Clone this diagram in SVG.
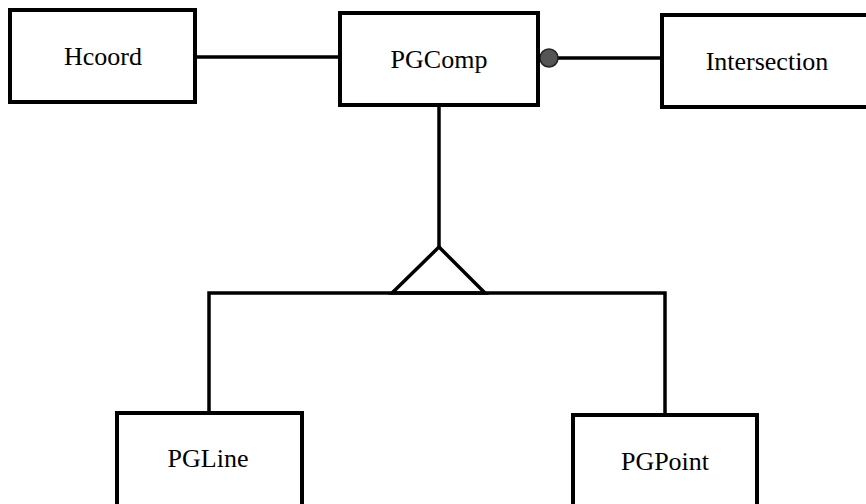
<svg xmlns="http://www.w3.org/2000/svg" width="866" height="504" viewBox="0 0 866 504">
<style>
.box{fill:#fff;stroke:#000;stroke-width:4}
.lbl{font-family:"Liberation Serif","Times New Roman",serif;font-size:26px;fill:#000;text-anchor:middle}
.ln{fill:none;stroke:#000;stroke-width:3.5}
</style>
<rect width="866" height="504" fill="#fff"/>
<g id="connectors">
<line class="ln" x1="195" y1="57" x2="340" y2="57"/>
<line class="ln" x1="556" y1="58" x2="662" y2="58"/>
<circle cx="549" cy="58" r="9" fill="#555" stroke="#222" stroke-width="1.5"/>
<line class="ln" x1="439" y1="105" x2="439" y2="247"/>
<polygon class="ln" points="439,247 392,293 485,293" style="fill:#fff"/>
<polyline class="ln" points="209,413 209,293 665,293 665,415"/>
</g>
<g id="hcoord">
<rect class="box" x="10" y="10" width="185" height="92"/>
<text class="lbl" x="103" y="65">Hcoord</text>
</g>
<g id="pgcomp">
<rect class="box" x="340" y="13" width="198" height="92"/>
<text class="lbl" x="439" y="68">PGComp</text>
</g>
<g id="intersection">
<rect class="box" x="662" y="15" width="220" height="92"/>
<text class="lbl" x="767" y="70">Intersection</text>
</g>
<g id="pgline">
<rect class="box" x="117" y="413" width="185" height="100"/>
<text class="lbl" x="208" y="467">PGLine</text>
</g>
<g id="pgpoint">
<rect class="box" x="573" y="415" width="184" height="100"/>
<text class="lbl" x="665" y="470">PGPoint</text>
</g>
</svg>
